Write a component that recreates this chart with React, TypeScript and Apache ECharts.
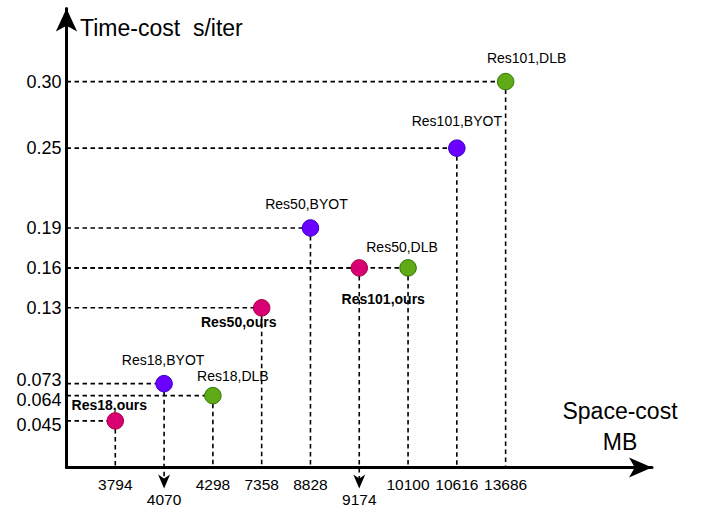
import React, { useEffect, useRef } from "react";
import * as echarts from "echarts";

// ---- data ----
const models = ["Res18", "Res50", "Res101"];
const oursMemory = [3794, 7358, 9174];
const oursTime = [0.045, 0.13, 0.16];
const byotMemory = [4070, 8828, 10616];
const byotTime = [0.073, 0.19, 0.25];
const dlbMemory = [4298, 10100, 13686];
const dlbTime = [0.064, 0.16, 0.3];

const memoryTicks = ["3794", "4070", "4298", "7358", "8828", "9174", "10100", "10616", "13686"];
const timeTicks = ["0.30", "0.25", "0.19", "0.16", "0.13", "0.073", "0.064", "0.045"];

// ---- styling ----
const FONT = '"Liberation Sans", Arial, Helvetica, sans-serif';
const palette: Record<string, { fill: string; border: string }> = {
  ours: { fill: "#d80073", border: "#a50040" },
  BYOT: { fill: "#6a00ff", border: "#3700cc" },
  DLB: { fill: "#60a917", border: "#2d7600" },
};
const staggeredTicks = ["4070", "9174"];
const labelOffsets: Record<string, [number, number]> = {
  "Res18,ours": [-6, -16],
  "Res50,ours": [-23, 14],
  "Res101,ours": [24, 31],
  "Res18,BYOT": [-1, -24],
  "Res50,BYOT": [-4, -24],
  "Res101,BYOT": [0, -27],
  "Res18,DLB": [20, -20],
  "Res50,DLB": [-6, -21],
  "Res101,DLB": [21, -24],
};

const groups = [
  { method: "ours", memory: oursMemory, time: oursTime },
  { method: "BYOT", memory: byotMemory, time: byotTime },
  { method: "DLB", memory: dlbMemory, time: dlbTime },
];

const guidePoints: { mem: string; time: number }[] = [];
groups.forEach((g) => g.memory.forEach((m, i) => guidePoints.push({ mem: String(m), time: g.time[i] })));

export default function App() {
  const ref = useRef<HTMLDivElement>(null);

  useEffect(() => {
    if (!ref.current) return;
    const chart = echarts.init(ref.current, undefined, { renderer: "svg" });

    const dash = { stroke: "#000", lineWidth: 1.6, lineDash: [4.5, 3.5] };

    const guideSeries = {
      type: "custom",
      z: 2,
      silent: true,
      clip: false,
      encode: { x: 0, y: 1 },
      data: guidePoints.map((p) => [p.mem, p.time]),
      renderItem: (params: any, api: any) => {
        const gp = guidePoints[params.dataIndex];
        const pt = api.coord([api.value(0), api.value(1)]);
        const cs = params.coordSys;
        const left = cs.x;
        const bottom = cs.y + cs.height;
        const staggered = staggeredTicks.includes(gp.mem);
        const children: any[] = [
          { type: "line", shape: { x1: left, y1: pt[1], x2: pt[0], y2: pt[1] }, style: dash },
          {
            type: "line",
            shape: { x1: pt[0], y1: pt[1], x2: pt[0], y2: staggered ? bottom + 12 : bottom },
            style: dash,
          },
        ];
        if (staggered) {
          children.push({
            type: "polygon",
            shape: {
              points: [
                [pt[0] - 6, bottom + 7],
                [pt[0], bottom + 11],
                [pt[0] + 6, bottom + 7],
                [pt[0], bottom + 21],
              ],
            },
            style: { fill: "#000" },
          });
        }
        return { type: "group", children };
      },
    };

    const scatterSeries = groups.map((g) => ({
      type: "scatter",
      name: g.method,
      z: 5,
      symbol: "circle",
      symbolSize: 16.5,
      itemStyle: {
        color: palette[g.method].fill,
        borderColor: palette[g.method].border,
        borderWidth: 1,
        opacity: 1,
      },
      label: {
        show: true,
        position: "inside",
        formatter: (p: any) => `${p.name},${g.method}`,
        color: "#000",
        fontSize: 14,
        fontFamily: FONT,
        fontWeight: g.method === "ours" ? "bold" : "normal",
        textBorderWidth: 0,
      },
      data: models.map((m, i) => ({
        name: m,
        value: [String(g.memory[i]), g.time[i]],
        label: { offset: labelOffsets[`${m},${g.method}`] },
      })),
    }));

    chart.setOption({
      animation: false,
      backgroundColor: "#fff",
      grid: { left: 66.5, right: 58, top: 8.4, bottom: 39.5, containLabel: false },
      xAxis: {
        type: "category",
        data: memoryTicks,
        boundaryGap: false,
        min: -1,
        max: 11,
        axisLine: {
          show: true,
          lineStyle: { color: "#000", width: 3 },
          symbol: ["none", "arrow"],
          symbolSize: [15, 23],
        },
        axisTick: { show: false },
        splitLine: { show: false },
        axisLabel: {
          interval: 0,
          margin: 9,
          color: "#000",
          fontSize: 15.5,
          fontFamily: FONT,
          lineHeight: 15,
          hideOverlap: false,
          formatter: (v: any) => {
            if (v == null || v === "") return "";
            return staggeredTicks.includes(String(v)) ? "\n" + v : String(v);
          },
        },
      },
      yAxis: {
        type: "value",
        min: 0.01,
        max: 0.355,
        axisLine: {
          show: true,
          lineStyle: { color: "#000", width: 3 },
          symbol: ["none", "arrow"],
          symbolSize: [16, 23],
        },
        axisTick: { show: false },
        splitLine: { show: false },
        axisLabel: {
          customValues: timeTicks.map(Number),
          margin: 5,
          color: "#000",
          fontSize: 18,
          fontFamily: FONT,
          formatter: (v: number) => {
            const s = timeTicks.find((t) => Math.abs(Number(t) - v) < 1e-9) ?? String(v);
            if (s === "0.073") return `{up|${s}}`;
            if (s === "0.064" || s === "0.045") return `{down|${s}}`;
            return s;
          },
          rich: {
            up: { fontSize: 18, fontFamily: FONT, color: "#000", padding: [0, 0, 8, 0] },
            down: { fontSize: 18, fontFamily: FONT, color: "#000", padding: [8, 0, 0, 0] },
          },
        },
      },
      graphic: [
        {
          type: "text",
          x: 80,
          y: 27.5,
          style: {
            text: "Time-cost  s/iter",
            font: `23px ${FONT}`,
            fill: "#000",
            verticalAlign: "middle",
            align: "left",
          },
        },
        {
          type: "text",
          x: 620,
          y: 426.5,
          style: {
            text: "Space-cost\nMB",
            font: `23px ${FONT}`,
            fill: "#000",
            lineHeight: 31,
            verticalAlign: "middle",
            align: "center",
          },
        },
      ],
      series: [guideSeries, ...scatterSeries],
    });

    return () => chart.dispose();
  }, []);

  return (
    <div
      ref={ref}
      style={{ position: "fixed", left: 0, top: 0, width: 710, height: 507 }}
    />
  );
}
